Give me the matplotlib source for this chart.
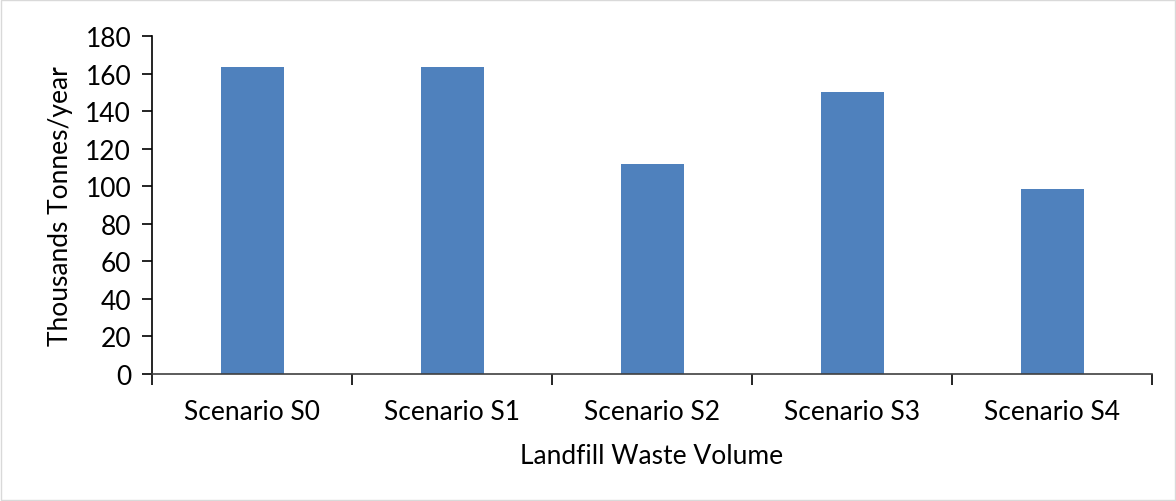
import matplotlib
matplotlib.use("Agg")
import matplotlib.pyplot as plt
import numpy as np

plt.rcParams['font.family'] = ['Lato', 'DejaVu Sans']

categories = ['Scenario S0', 'Scenario S1', 'Scenario S2', 'Scenario S3', 'Scenario S4']
values = [163.5, 163.5, 111.8, 150.0, 98.3]
yticks = [0, 20, 40, 60, 80, 100, 120, 140, 160, 180]

fig = plt.figure(figsize=[11.76, 5.02], dpi=100)
ax = fig.add_axes([0.1293, 0.253, 0.8503, 0.673])

x = np.arange(len(categories))
ax.bar(x, values, width=0.315, color='#4f81bd', zorder=2)

ax.set_xlim(-0.5, len(categories) - 0.5)
ax.set_ylim(0, 180)
ax.set_yticks(yticks)
ax.set_xticks(x)
ax.set_xticklabels(categories, fontsize=19)
ax.set_xticks(np.arange(len(categories) + 1) - 0.5, minor=True)
ax.tick_params(axis='x', which='major', length=0, pad=18)
ax.tick_params(axis='x', which='minor', length=8, width=1.2, direction='out')
ax.tick_params(axis='y', length=7, width=1.2, direction='out', labelsize=19, pad=8)

for s in ['top', 'right']:
    ax.spines[s].set_visible(False)
ax.spines['left'].set_linewidth(1.2)
ax.spines['bottom'].set_linewidth(1.2)
ax.spines['bottom'].set_color('#404040')

ax.set_xlabel('Landfill Waste Volume', fontsize=19, labelpad=14)
ax.set_ylabel('Thousands Tonnes/year', fontsize=19, labelpad=9)

fig.patches.append(plt.Rectangle((0.001, 0.002), 0.998, 0.996, transform=fig.transFigure,
                                 fill=False, edgecolor='#d9d9d9', linewidth=1))

fig.savefig('out.png', dpi=100)
